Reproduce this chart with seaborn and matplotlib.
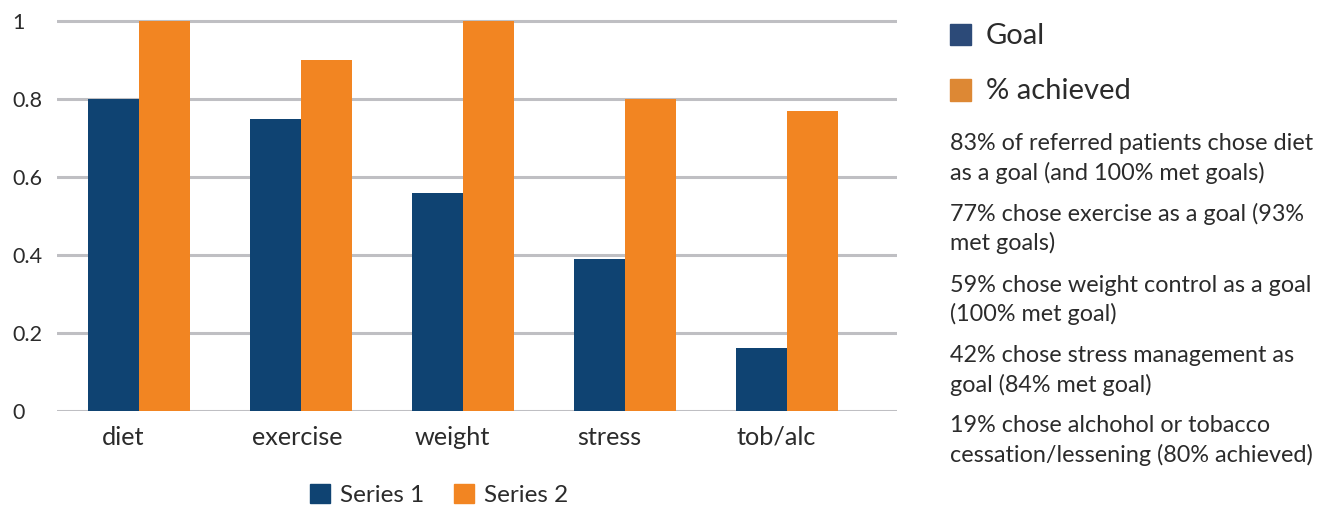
import matplotlib
matplotlib.use("Agg")
import matplotlib.pyplot as plt
import matplotlib.transforms as mtransforms
from matplotlib.patches import Rectangle
import seaborn as sns
import pandas as pd

# ---- data ----
categories = ["diet", "exercise", "weight", "stress", "tob/alc"]
series_names = ["Series 1", "Series 2"]
series1 = [0.80, 0.75, 0.56, 0.39, 0.16]
series2 = [1.00, 0.90, 1.00, 0.80, 0.77]
y_ticks = [0, 0.2, 0.4, 0.6, 0.8, 1]
y_tick_labels = ["0", "0.2", "0.4", "0.6", "0.8", "1"]
side_legend = ["Goal", "% achieved"]
notes = [
    ["83% of referred patients chose diet", "as a goal (and 100% met goals)"],
    ["77% chose exercise as a goal (93%", "met goals)"],
    ["59% chose weight control as a goal", "(100% met goal)"],
    ["42% chose stress management as", "goal (84% met goal)"],
    ["19% chose alchohol or tobacco", "cessation/lessening (80% achieved)"],
]

df = pd.DataFrame({
    "category": categories * 2,
    "value": series1 + series2,
    "series": [series_names[0]] * len(categories) + [series_names[1]] * len(categories),
})

NAVY = "#0f4372"
ORANGE = "#f28522"
GRID = "#bfbfc3"
TEXT = "#2b2b2b"

sns.set_theme(style="white")
plt.rcParams["font.family"] = ["Lato", "DejaVu Sans"]

W, H = 1333, 505
fig = plt.figure(figsize=(W / 100, H / 100), dpi=100)

# axes placement in pixels
x0, x1 = 57, 897
y_zero, px_per_unit = 410.7, 389.4
ytop = 1.01
ax = fig.add_axes([x0 / W, (H - y_zero) / H, (x1 - x0) / W, ytop * px_per_unit / H])

sns.barplot(data=df, x="category", y="value", hue="series",
            palette=[NAVY, ORANGE], width=0.63, saturation=1,
            ax=ax, legend=False, linewidth=0)

ax.set_ylim(0, ytop)
ax.set_xlim(-0.506, 4.68)
ax.set_xlabel("")
ax.set_ylabel("")

# horizontal gridlines
for yv in y_ticks:
    ax.axhline(yv, color=GRID, lw=2.2, zorder=0)
for s in ax.spines.values():
    s.set_visible(False)

ax.set_yticks(y_ticks)
ax.set_yticklabels(y_tick_labels)
ax.tick_params(axis="y", length=0, pad=32.4, labelsize=15.5, labelcolor=TEXT)
for lab in ax.get_yticklabels():
    lab.set_ha("left")

ax.set_xticks(range(len(categories)))
ax.set_xticklabels(categories)
ax.tick_params(axis="x", length=0, pad=11, labelsize=18.2, labelcolor=TEXT)
# category labels sit slightly left of their bar groups
label_shift_px = [-16, -4, -11, -16, -11]
for lab, dx in zip(ax.get_xticklabels(), label_shift_px):
    shift = mtransforms.ScaledTranslation(dx / 100, 0, fig.dpi_scale_trans)
    lab.set_transform(lab.get_transform() + shift)

# bottom legend
handles = [Rectangle((0, 0), 1, 1, color=c) for c in (NAVY, ORANGE)]
leg = fig.legend(handles, series_names, loc="center", ncol=2,
                 bbox_to_anchor=(439 / W, 1 - 495 / H), frameon=False,
                 fontsize=17.5, handlelength=0.85, handleheight=0.85,
                 handletextpad=0.4, columnspacing=1.2, borderaxespad=0)
for t in leg.get_texts():
    t.set_color(TEXT)

# side legend
side_colors = ["#2c4a78", "#dd8834"]
side_rows = [34.5, 90]
for name, col, yc in zip(side_legend, side_colors, side_rows):
    fig.patches.append(Rectangle((950 / W, 1 - (yc + 10.5) / H), 21 / W, 21 / H,
                                 transform=fig.transFigure, color=col))
    fig.text(986 / W, 1 - (yc + 9) / H, name,
             fontsize=21, color=TEXT, va="baseline", ha="left")

# side notes
baselines = [[150, 180], [221, 250], [292, 321], [361.5, 391.5], [432.5, 461.5]]
for para, bls in zip(notes, baselines):
    for line, bl in zip(para, bls):
        fig.text(950 / W, 1 - bl / H, line, fontsize=16.8, color=TEXT,
                 va="baseline", ha="left")

fig.savefig("out.png", dpi=100)
